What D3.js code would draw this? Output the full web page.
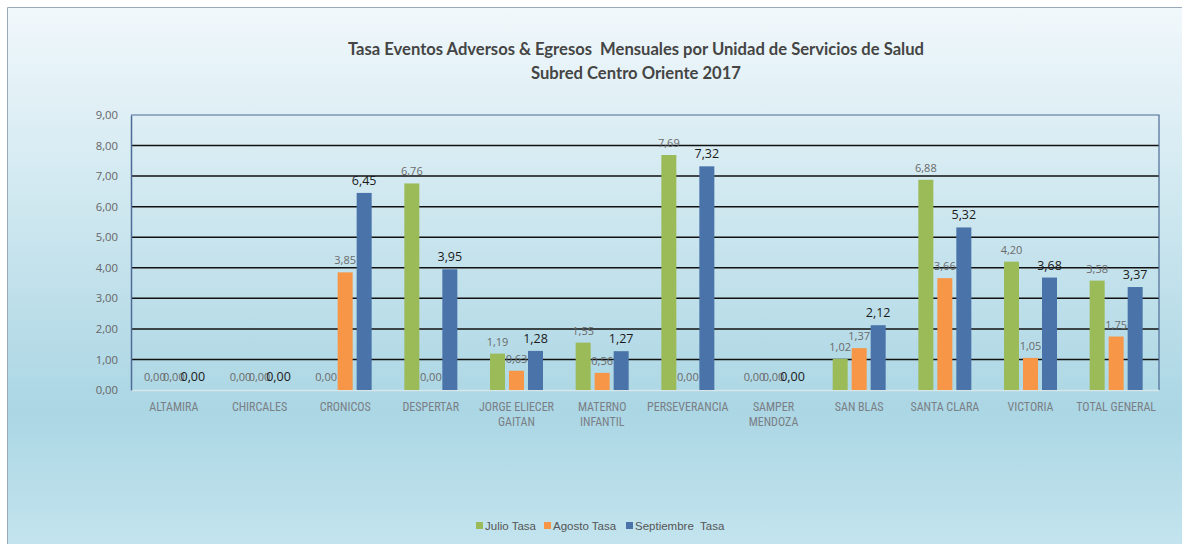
<!DOCTYPE html>
<html><head><meta charset="utf-8">
<script src="https://cdn.jsdelivr.net/npm/d3@7/dist/d3.min.js"></script>
<style>body{margin:0;background:#fff;}svg{display:block;}</style>
</head><body>
<svg id="c" width="1182" height="544"></svg>
<script>
const categories = ["ALTAMIRA","CHIRCALES","CRONICOS","DESPERTAR","JORGE ELIECER|GAITAN","MATERNO|INFANTIL","PERSEVERANCIA","SAMPER|MENDOZA","SAN BLAS","SANTA CLARA","VICTORIA","TOTAL GENERAL"];
const seriesNames = ["Julio Tasa","Agosto Tasa","Septiembre  Tasa"];
const julio = [0,0,0,6.76,1.19,1.55,7.69,0,1.02,6.88,4.20,3.58];
const agosto = [0,0,3.85,0,0.63,0.56,0,0,1.37,3.66,1.05,1.75];
const septiembre = [0,0,6.45,3.95,1.28,1.27,7.32,0,2.12,5.32,3.68,3.37];
const yTicks = [0,1,2,3,4,5,6,7,8,9];
const colors = ["#9bbb59","#f79646","#4a73a9"];

const svg = d3.select("#c");
const W = 1182, H = 544;
const defs = svg.append("defs");
const g1 = defs.append("linearGradient").attr("id","bg").attr("x1",0).attr("y1",0).attr("x2",0).attr("y2",1);
g1.append("stop").attr("offset","0%").attr("stop-color","#f1f8fb");
g1.append("stop").attr("offset","75%").attr("stop-color","#abd6e4");
g1.append("stop").attr("offset","100%").attr("stop-color","#c3e4ee");
svg.append("rect").attr("x",7).attr("y",7).attr("width",W-7).attr("height",H-7).attr("fill","url(#bg)");
svg.append("path").attr("d",`M7.5,${H} V7.5 H${W}`).attr("fill","none").attr("stroke","#9aaab8").attr("stroke-width",1);

const m = {l:131, r:1159, t:115, b:390};
const x = d3.scaleBand().domain(categories).range([m.l,m.r]).paddingInner(0).paddingOuter(0);
const y = d3.scaleLinear().domain([0,9]).range([m.b,m.t]);
const barW = 15, step = 19;

// title
const title = svg.append("text").attr("text-anchor","middle").attr("font-family","Lato, 'Open Sans', sans-serif").attr("font-weight","bold").attr("font-size",16.6).attr("fill","#454545");
title.append("tspan").attr("x",636).attr("y",55).attr("xml:space","preserve").text("Tasa Eventos Adversos & Egresos  Mensuales por Unidad de Servicios de Salud");
title.append("tspan").attr("x",636).attr("y",79).text("Subred Centro Oriente 2017");

// gridlines
svg.append("g").selectAll("line").data(yTicks.filter(d=>d>0 && d<9)).join("line")
  .attr("x1",m.l).attr("x2",m.r).attr("y1",d=>y(d)).attr("y2",d=>y(d))
  .attr("stroke","#111").attr("stroke-width",1.5);
// plot border top/right
svg.append("path").attr("d",`M${m.l},${m.t} H${m.r} V${m.b}`).attr("fill","none").attr("stroke","#4d6b96").attr("stroke-width",1.2);
// bottom axis line
svg.append("line").attr("x1",m.l).attr("x2",m.r).attr("y1",m.b+0.5).attr("y2",m.b+0.5).attr("stroke","#d8e6ec").attr("stroke-width",1.5);

// y axis
const yAxis = d3.axisLeft(y).tickValues(yTicks).tickSize(0).tickPadding(13).tickFormat(d=>d3.format(".2f")(d).replace(".",","));
const ya = svg.append("g").attr("transform",`translate(${m.l},0)`).call(yAxis);
ya.select(".domain").attr("stroke","#4d6b96").attr("stroke-width",1.5);
ya.selectAll("text").attr("font-family","'Open Sans', sans-serif").attr("font-size",11.3).attr("fill","#666");

// x axis labels
const xa = svg.append("g");
categories.forEach(c=>{
  const lines = c.split("|");
  const t = xa.append("text").attr("text-anchor","middle").attr("font-family","'Liberation Sans Narrow', 'Roboto Condensed', sans-serif").attr("font-size",12).attr("fill","#7a7f85");
  lines.forEach((ln,i)=>t.append("tspan").attr("x",x(c)+x.bandwidth()/2).attr("y",m.b+21+i*15).text(ln));
});

// bars
const all = [julio, agosto, septiembre];
all.forEach((arr,si)=>{
  const gs = svg.append("g");
  const data = arr.map((v,i)=>({c:categories[i],v}));
  gs.selectAll("rect").data(data).join("rect")
    .attr("x",d=>x(d.c)+x.bandwidth()/2+(si-1)*step-barW/2)
    .attr("width",barW)
    .attr("y",d=>y(d.v)).attr("height",d=>m.b-y(d.v))
    .attr("fill",colors[si]);
  gs.selectAll("text").data(data).join("text")
    .attr("x",d=>x(d.c)+x.bandwidth()/2+(si-1)*step)
    .attr("y",d=>y(d.v)-(d.v===0?9:8))
    .attr("text-anchor","middle")
    .attr("font-family","'Open Sans', sans-serif")
    .attr("font-size",si===2?12.5:11)
    .attr("fill",si===2?"#1a1a1a":"#6a6a6a")
    .text(d=>d3.format(".2f")(d.v).replace(".",","));
});

// legend
const lg = svg.append("g");
const lx = [476, 544, 626];
seriesNames.forEach((s,i)=>{
  lg.append("rect").attr("x",lx[i]).attr("y",522).attr("width",7).attr("height",7).attr("fill",colors[i]);
  lg.append("text").attr("x",lx[i]+9).attr("y",529.5).attr("font-family","'Liberation Sans Narrow', sans-serif").attr("font-size",11.5).attr("fill","#555").attr("xml:space","preserve").text(s);
});
</script>
</body></html>
